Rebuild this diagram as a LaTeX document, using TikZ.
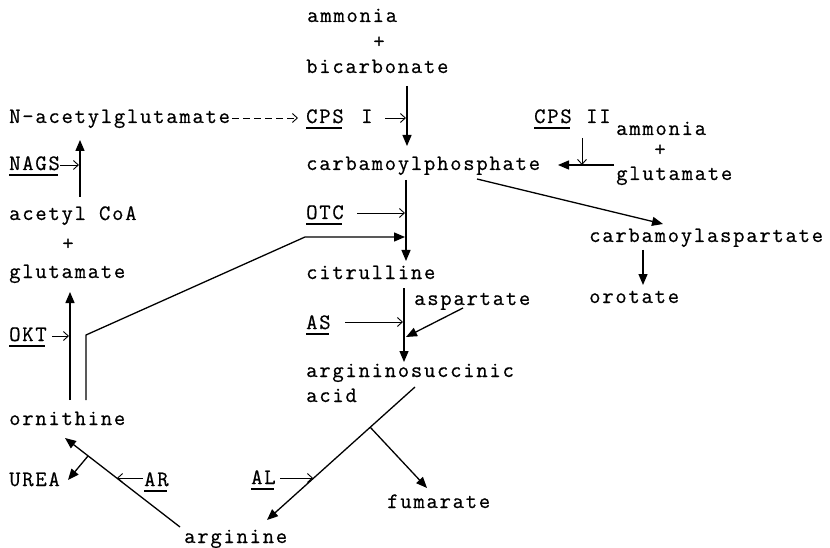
\documentclass[tikz,border=0pt]{standalone}
\usepackage{fontspec}
\usetikzlibrary{arrows.meta}
\newfontfamily\twfont[LetterSpace=8,FakeBold=0.6]{Latin Modern Mono}
\tikzset{
  lbl/.style={anchor=base west, inner sep=0pt, font=\twfont\fontsize{22}{24}\selectfont},
  plus/.style={anchor=base, inner sep=0pt, font=\twfont\fontsize{22}{24}\selectfont},
  main/.style={line width=1.3pt, -{Triangle[length=11pt,width=9pt]}},
  enz/.style={line width=0.9pt, -{Straight Barb[length=5pt,width=9pt]}},
  ul/.style={line width=1.6pt}
}
\newcommand{\ulnode}[1]{\draw[ul] ([yshift=-5pt]#1.base west) -- ([yshift=-5pt,xshift=-2pt]#1.base east);}
\begin{document}
\begin{tikzpicture}[x=1pt,y=-1pt]
\fill[white] (0,0) rectangle (830,548);
\useasboundingbox (0,0) rectangle (830,548);

% texts
\node[lbl] (amm1) at (307,22) {ammonia};
\node[plus] (p1) at (379,48) {+};
\node[lbl] (bicarb) at (306,73) {bicarbonate};
\node[lbl] (nag) at (9,123) {N-acetylglutamate};
\node[lbl] (cps1) at (306,123) {CPS};
\node[lbl] (cps1r) at (361,123) {I};
\node[lbl] (cps2) at (534,123) {CPS};
\node[lbl] (cps2r) at (586,123) {II};
\node[lbl] (amm2) at (616,135) {ammonia};
\node[plus] (p2) at (660,156) {+};
\node[lbl] (glu2) at (616,180) {glutamate};
\node[lbl] (carbp) at (306,170) {carbamoylphosphate};
\node[lbl] (nags) at (9,170) {NAGS};
\node[lbl] (acoa) at (9,220) {acetyl CoA};
\node[plus] (p3) at (68,250) {+};
\node[lbl] (glu1) at (9,278) {glutamate};
\node[lbl] (otc) at (306,219) {OTC};
\node[lbl] (casp) at (589,242) {carbamoylaspartate};
\node[lbl] (cit) at (306,279) {citrulline};
\node[lbl] (oro) at (589,303) {orotate};
\node[lbl] (asp) at (414,305) {aspartate};
\node[lbl] (as) at (306,329) {AS};
\node[lbl] (okt) at (9,341) {OKT};
\node[lbl] (argsuc) at (306,377) {argininosuccinic};
\node[lbl] (acid) at (306,402) {acid};
\node[lbl] (orn) at (9,425) {ornithine};
\node[lbl] (urea) at (9,486) {UREA};
\node[lbl] (ar) at (144,486) {AR};
\node[lbl] (al) at (251,484) {AL};
\node[lbl] (fum) at (387,508) {fumarate};
\node[lbl] (arg) at (184,543) {arginine};

% underlines
\ulnode{cps1}
\ulnode{cps2}
\ulnode{nags}
\ulnode{otc}
\ulnode{as}
\ulnode{okt}
\ulnode{ar}
\ulnode{al}

% coordinates
\coordinate (a1) at (407,86);  \coordinate (a2) at (407,146);
\coordinate (b1) at (385,118); \coordinate (b2) at (406,118);
\coordinate (c1) at (232,118); \coordinate (c2) at (298,118);
\coordinate (d1) at (582,138); \coordinate (d2) at (582,165);
\coordinate (e1) at (614,165); \coordinate (e2) at (558,165);
\coordinate (f1) at (477,179); \coordinate (f2) at (663,224);
\coordinate (g1) at (643,250); \coordinate (g2) at (643,285);
\coordinate (h1) at (60,165);  \coordinate (h2) at (79,165);
\coordinate (i1) at (80,197);  \coordinate (i2) at (80,140);
\coordinate (j1) at (406,180); \coordinate (j2) at (406,261);
\coordinate (k1) at (357,213); \coordinate (k2) at (405,213);
\coordinate (l1) at (86,400);  \coordinate (l2) at (86,335);
\coordinate (l3) at (305,237); \coordinate (l4) at (405,237);
\coordinate (m1) at (70,400);  \coordinate (m2) at (70,292);
\coordinate (n1) at (52,336);  \coordinate (n2) at (69,336);
\coordinate (o1) at (404,288); \coordinate (o2) at (404,362);
\coordinate (q1) at (463,308); \coordinate (q2) at (406,337);
\coordinate (r1) at (345,322); \coordinate (r2) at (403,322);
\coordinate (s1) at (415,387); \coordinate (s2) at (267,520);
\coordinate (t1) at (370,427); \coordinate (t2) at (427,488);
\coordinate (u1) at (280,478); \coordinate (u2) at (313,478);
\coordinate (v1) at (180,527); \coordinate (v2) at (65,438);
\coordinate (w1) at (88,456);  \coordinate (w2) at (68,480);
\coordinate (x1) at (143,478); \coordinate (x2) at (117,478);

% connectors
\draw[main] (a1) -- (a2);
\draw[enz] (b1) -- (b2);
\draw[enz, dash pattern=on 7pt off 4pt] (c1) -- (c2);
\draw[enz] (d1) -- (d2);
\draw[main] (e1) -- (e2);
\draw[main] (f1) -- (f2);
\draw[main] (g1) -- (g2);
\draw[enz] (h1) -- (h2);
\draw[main] (i1) -- (i2);
\draw[main] (j1) -- (j2);
\draw[enz] (k1) -- (k2);
\draw[main] (l1) -- (l2) -- (l3) -- (l4);
\draw[main] (m1) -- (m2);
\draw[enz] (n1) -- (n2);
\draw[main] (o1) -- (o2);
\draw[main] (q1) -- (q2);
\draw[enz] (r1) -- (r2);
\draw[main] (s1) -- (s2);
\draw[main] (t1) -- (t2);
\draw[enz] (u1) -- (u2);
\draw[main] (v1) -- (v2);
\draw[main] (w1) -- (w2);
\draw[enz] (x1) -- (x2);
\end{tikzpicture}
\end{document}
